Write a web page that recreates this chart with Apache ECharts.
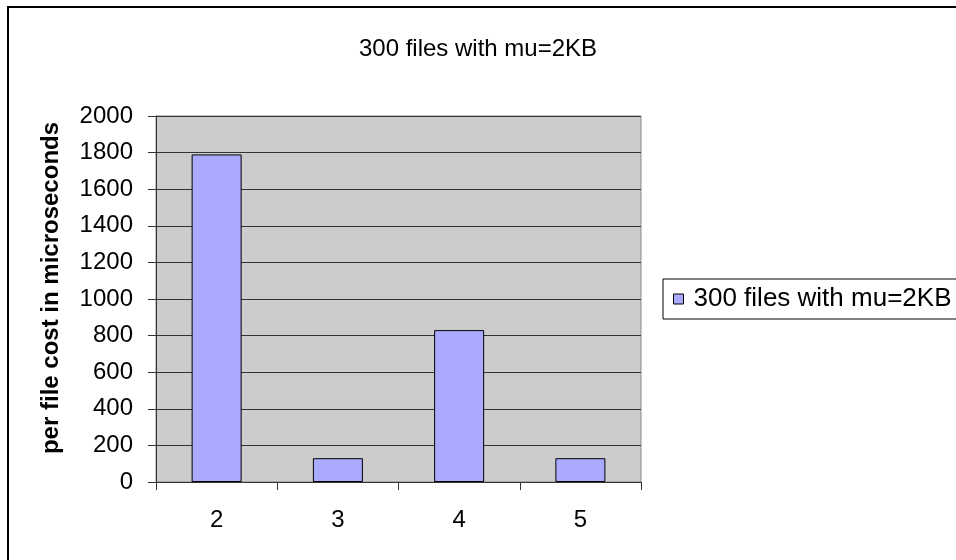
<!DOCTYPE html>
<html>
<head>
<meta charset="utf-8">
<script src="https://cdn.jsdelivr.net/npm/echarts@6/dist/echarts.min.js"></script>
<style>
  html, body { margin: 0; padding: 0; background: #fff; }
  #chart { width: 956px; height: 560px; }
</style>
</head>
<body>
<div id="chart"></div>
<script>
// Per-file cost by category
const categories = ['2', '3', '4', '5'];
const costValues = [1790, 130, 830, 130];
const seriesName = '300 files with mu=2KB';
const chartTitle = '300 files with mu=2KB';
const yAxisTitle = 'per file cost in microseconds';

const FONT = '"Liberation Sans", Arial, sans-serif';

const chart = echarts.init(document.getElementById('chart'), null, { renderer: 'canvas' });

chart.setOption({
  backgroundColor: '#ffffff',
  animation: false,
  title: {
    text: chartTitle,
    left: 'center',
    top: 32,
    textStyle: { fontFamily: FONT, fontSize: 24, fontWeight: 'normal', color: '#000' }
  },
  graphic: [{
    type: 'rect',
    shape: { x: 8, y: 7, width: 1000, height: 600 },
    style: { fill: 'none', stroke: '#000', lineWidth: 2 },
    z: 100
  }],
  legend: {
    left: 663,
    top: 279,
    orient: 'vertical',
    padding: [7, 30, 7, 10],
    borderColor: '#000',
    borderWidth: 1,
    itemWidth: 10,
    itemHeight: 10,
    itemGap: 0,
    icon: 'rect',
    textStyle: { fontFamily: FONT, fontSize: 26, color: '#000', padding: [0, 0, 0, 5] },
    data: [{ name: seriesName, itemStyle: { color: '#aaaaff', borderColor: '#000', borderWidth: 1 } }]
  },
  grid: {
    left: 156,
    right: 315,
    top: 116,
    bottom: 78,
    show: true,
    backgroundColor: '#cccccc',
    borderColor: '#888888',
    borderWidth: 1
  },
  xAxis: {
    type: 'category',
    data: categories,
    boundaryGap: true,
    axisLine: { show: true, lineStyle: { color: '#333', width: 1 } },
    axisTick: { show: true, length: 8, alignWithLabel: false, lineStyle: { color: '#333' } },
    axisLabel: { margin: 26, fontFamily: FONT, fontSize: 24, color: '#000' },
    splitLine: { show: false }
  },
  yAxis: {
    type: 'value',
    min: 0,
    max: 2000,
    interval: 200,
    name: yAxisTitle,
    nameLocation: 'middle',
    nameGap: 93,
    nameTextStyle: { fontFamily: FONT, fontSize: 24, fontWeight: 'bold', color: '#000', padding: [0, 0, 0, 22] },
    axisLine: { show: true, lineStyle: { color: '#333', width: 1 } },
    axisTick: { show: true, length: 8, lineStyle: { color: '#333' } },
    axisLabel: {
      margin: 23,
      fontFamily: FONT,
      fontSize: 24,
      color: '#000',
      formatter: function (v) { return String(v); }
    },
    splitLine: { show: true, lineStyle: { color: '#333', width: 1 } }
  },
  series: [{
    name: seriesName,
    type: 'bar',
    data: costValues,
    barWidth: 50,
    itemStyle: { color: '#aaaaff', borderColor: '#000', borderWidth: 1 }
  }]
});
</script>
</body>
</html>
